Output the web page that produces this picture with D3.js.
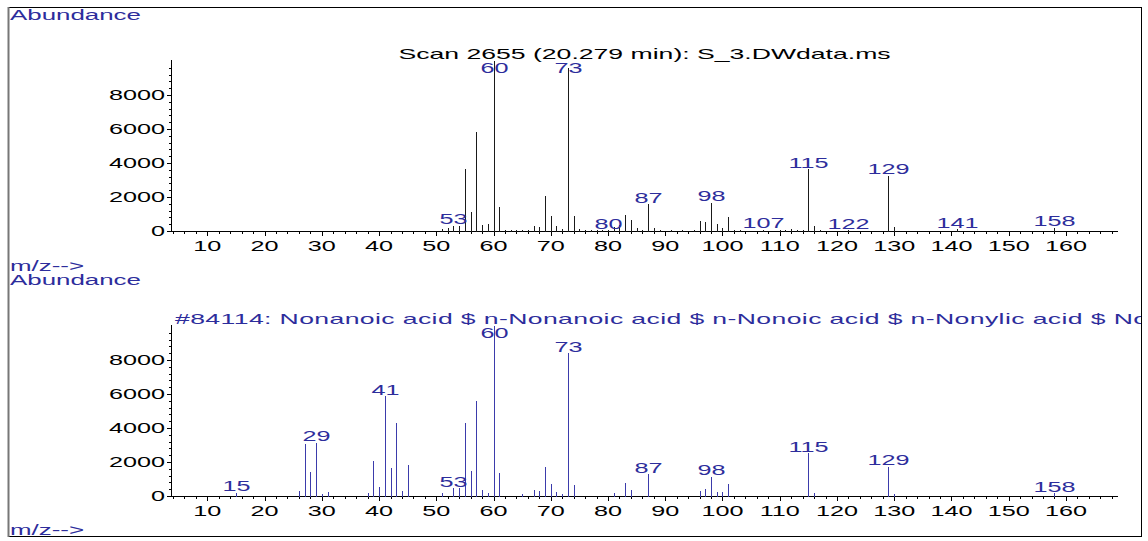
<!DOCTYPE html>
<html>
<head>
<meta charset="utf-8">
<script src="https://cdn.jsdelivr.net/npm/d3@7"></script>
<style>
  html, body { margin: 0; padding: 0; background: #fff; }
  svg { display: block; }
  text { font-family: "Liberation Sans", Arial, sans-serif; font-size: 14px; }
</style>
</head>
<body>
<svg id="chart" width="1148" height="541"></svg>
<script>
// Measured scan spectrum (m/z, abundance)
const scanMz = [51, 52, 53, 54, 55, 56, 57, 58, 59, 60, 61, 62, 63, 64, 65, 66, 67, 68, 69, 70,
  71, 72, 73, 74, 75, 76, 77, 78, 79, 80, 81, 82, 83, 84, 85, 86, 87, 88, 89, 91, 93, 95,
  96, 97, 98, 99, 100, 101, 102, 103, 107, 110, 111, 112, 113, 114, 115, 116, 117, 122,
  129, 130, 141, 158];
const scanAbund = [100, 160, 310, 300, 3630, 1130, 5840, 350, 390, 10000, 1400, 60, 40, 50, 70, 80, 300, 260, 2030, 880,
  300, 110, 9570, 880, 100, 50, 40, 40, 60, 40, 220, 350, 950, 650, 200, 70, 1580, 150, 40, 40, 30, 60,
  590, 510, 1670, 410, 170, 840, 60, 30, 70, 40, 60, 100, 60, 40, 3630, 310, 30, 30,
  3240, 220, 100, 200];
const scanLabels = [53, 60, 73, 80, 87, 98, 107, 115, 122, 129, 141, 158];

// Library reference spectrum (m/z, abundance)
const libMz = [15, 26, 27, 28, 29, 30, 31, 38, 39, 40, 41, 42, 43, 44, 45, 51, 53, 54, 55, 56,
  57, 58, 59, 60, 61, 65, 67, 68, 69, 70, 71, 72, 73, 74, 81, 83, 84, 87, 96, 97,
  98, 99, 100, 101, 115, 116, 129, 130, 158];
const libAbund = [190, 310, 3060, 1430, 3140, 120, 250, 160, 2060, 510, 5880, 1630, 4310, 290, 1820, 160, 470, 450, 4310, 1470,
  5610, 350, 160, 10000, 1330, 120, 350, 300, 1720, 700, 210, 120, 8390, 650, 160, 780, 350, 1270, 290, 410,
  1140, 250, 250, 700, 2510, 160, 1720, 120, 160];
const libLabels = [15, 29, 41, 53, 60, 73, 87, 98, 115, 129, 158];

const xTickValues = [10, 20, 30, 40, 50, 60, 70, 80, 90, 100, 110, 120, 130, 140, 150, 160];
const yTickValues = [0, 2000, 4000, 6000, 8000];

const scanTitle = "Scan 2655 (20.279 min): S_3.DWdata.ms";
const libTitle = "#84114: Nonanoic acid $ n-Nonanoic acid $ n-Nonoic acid $ n-Nonylic acid $ Nonoic acid";

const BLUE_TEXT = "#2d2d9c";
const BLUE_BAR = "#3b3bab";
const SX = 1.8;        // wide raster-style lettering
const SX_TITLE = 1.9;  // titles are a touch wider

const svg = d3.select("#chart");

// outer frame and clip
svg.append("defs").append("clipPath").attr("id", "frameClip")
  .append("rect").attr("x", 9).attr("y", 8).attr("width", 1132).attr("height", 528);

svg.append("rect")
  .attr("x", 8.5).attr("y", 7.5).attr("width", 1133).attr("height", 529)
  .attr("fill", "none").attr("stroke", "#000").attr("stroke-width", 1);
svg.append("line").attr("x1", 8.5).attr("x2", 8.5).attr("y1", 7).attr("y2", 537)
  .attr("stroke", "#777").attr("stroke-width", 2);

const root = svg.append("g").attr("clip-path", "url(#frameClip)");

function wideText(g, x, y, str, anchor, fill, sx = SX) {
  return g.append("text")
    .attr("transform", `translate(${x},${y}) scale(${sx},1)`)
    .attr("text-anchor", anchor)
    .attr("fill", fill)
    .text(str);
}

const x = d3.scaleLinear().domain([3.65, 169.1]).range([171, 1118]);

function drawPanel(opts) {
  const { base, mz, abund, labels, title, titleMode, barColor } = opts;
  const y = d3.scaleLinear().domain([0, 10000]).range([base, base - 170]);
  const g = root.append("g");

  // x axis: major ticks every 10, minor every 2
  const xMinor = d3.range(4, 169, 2).filter(v => v % 10 !== 0);
  g.append("g")
    .attr("transform", `translate(0,${base})`)
    .call(d3.axisBottom(x).tickValues(xMinor).tickSize(3).tickFormat(""))
    .call(a => a.select(".domain").remove())
    .selectAll("line").attr("stroke", "#000").attr("shape-rendering", "crispEdges");
  const xa = g.append("g")
    .attr("transform", `translate(0,${base})`)
    .call(d3.axisBottom(x).tickValues(xTickValues).tickSize(5).tickFormat(""));
  xa.select(".domain").remove();
  xa.selectAll("line").attr("stroke", "#000").attr("shape-rendering", "crispEdges");
  xTickValues.forEach(v => wideText(g, x(v), base + 19.5, String(v), "middle", "#000"));
  g.append("line")
    .attr("x1", x.range()[0]).attr("x2", x.range()[1])
    .attr("y1", base + 0.5).attr("y2", base + 0.5)
    .attr("stroke", "#000").attr("shape-rendering", "crispEdges");

  // y axis: major every 2000, minor every 400
  const yMinor = d3.range(400, 10001, 400).filter(v => v % 2000 !== 0);
  const ym = g.append("g")
    .attr("transform", `translate(${x.range()[0]},0)`)
    .call(d3.axisLeft(y).tickValues(yMinor).tickSize(2).tickFormat(""));
  ym.select(".domain").remove();
  ym.selectAll("line").attr("stroke", "#000").attr("shape-rendering", "crispEdges");
  const yM = g.append("g")
    .attr("transform", `translate(${x.range()[0]},0)`)
    .call(d3.axisLeft(y).tickValues(yTickValues).tickSize(4).tickFormat(""));
  yM.select(".domain").remove();
  yM.selectAll("line").attr("stroke", "#000").attr("shape-rendering", "crispEdges");
  yTickValues.forEach(v => wideText(g, x.range()[0] - 6, y(v) + 5, String(v), "end", "#000"));
  g.append("line")
    .attr("x1", x.range()[0] + 0.5).attr("x2", x.range()[0] + 0.5)
    .attr("y1", base + 0.5).attr("y2", y(10000) - 1)
    .attr("stroke", "#000").attr("shape-rendering", "crispEdges");

  // spectrum sticks
  const peaks = mz.map((m, i) => ({ m, v: abund[i] }));
  g.append("g").selectAll("line").data(peaks).join("line")
    .attr("x1", d => Math.round(x(d.m)) + 0.5)
    .attr("x2", d => Math.round(x(d.m)) + 0.5)
    .attr("y1", base + 0.5)
    .attr("y2", d => y(d.v))
    .attr("stroke", barColor).attr("stroke-width", 1)
    .attr("shape-rendering", "crispEdges");

  // peak labels, kept inside the plot top
  const topLimit = y(10000) + 12;
  labels.forEach(m => {
    const v = abund[mz.indexOf(m)];
    const yy = Math.max(y(v) - 1.5, topLimit);
    wideText(g, Math.round(x(m)) + 0.5, yy, String(m), "middle", BLUE_TEXT);
  });

  // panel title
  if (titleMode === "center") {
    wideText(g, (x.range()[0] + x.range()[1]) / 2, base - 172.5, title, "middle", "#000", SX_TITLE);
  } else {
    wideText(g, x.range()[0] + 4, base - 172.5, title, "start", BLUE_TEXT, SX_TITLE)
      .attr("letter-spacing", 0.2);
  }
}

drawPanel({ base: 231, mz: scanMz, abund: scanAbund, labels: scanLabels,
  title: scanTitle, titleMode: "center", barColor: "#1a1a1a" });
drawPanel({ base: 496, mz: libMz, abund: libAbund, labels: libLabels,
  title: libTitle, titleMode: "left", barColor: BLUE_BAR });

// axis captions
wideText(root, 10, 19.5, "Abundance", "start", BLUE_TEXT, 1.85);
wideText(root, 10, 270.5, "m/z-->", "start", BLUE_TEXT, 1.85);
wideText(root, 10, 285, "Abundance", "start", BLUE_TEXT, 1.85);
wideText(root, 10, 535, "m/z-->", "start", BLUE_TEXT, 1.85);
</script>
</body>
</html>
